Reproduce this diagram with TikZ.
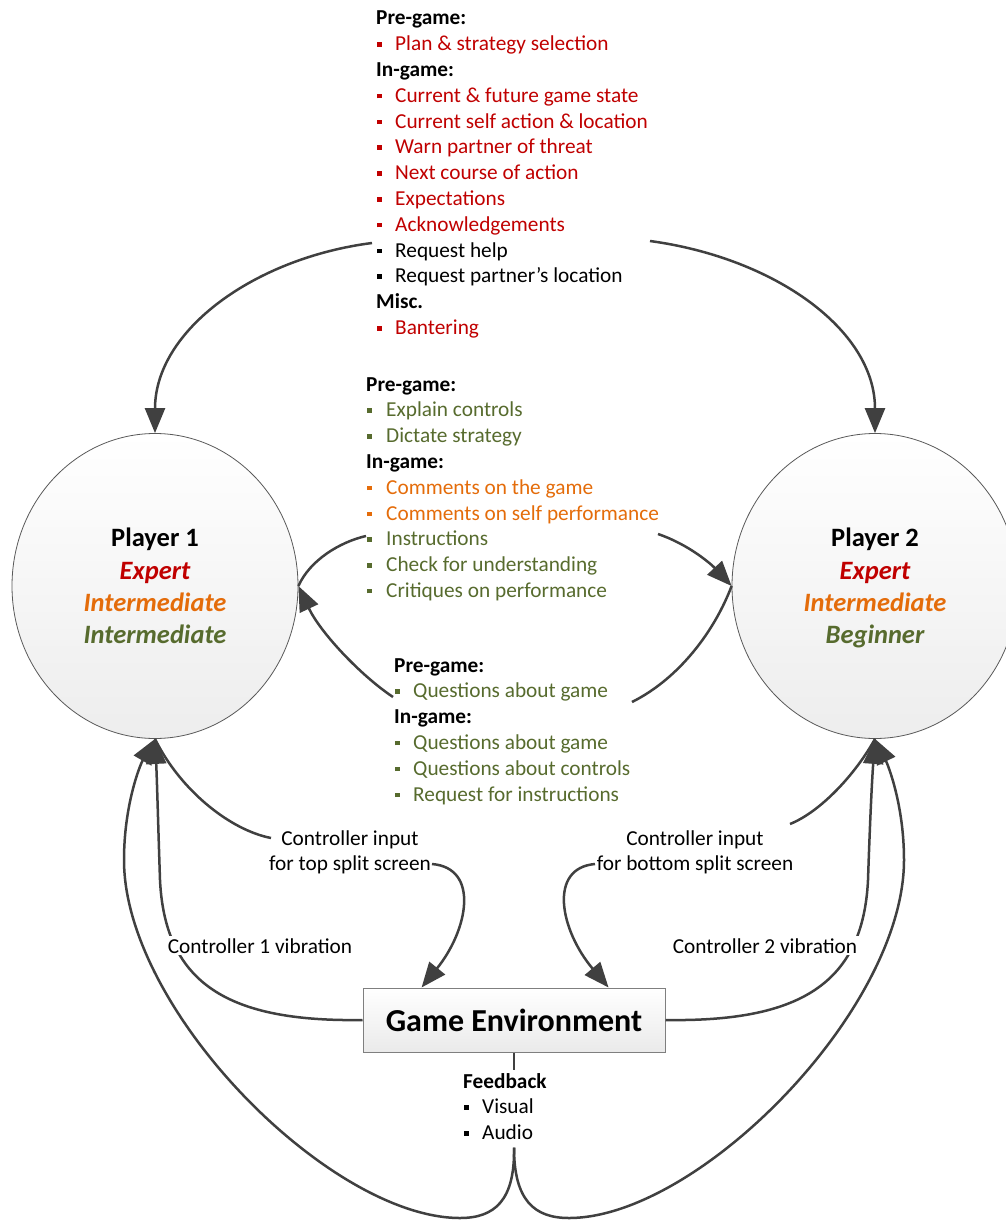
\documentclass[tikz,border=0pt]{standalone}
\usepackage{fontspec}
\setmainfont{Carlito}
\usetikzlibrary{arrows.meta,shapes.geometric,calc}

\definecolor{cred}{HTML}{C00000}
\definecolor{corange}{HTML}{E46C0A}
\definecolor{cgreen}{HTML}{576B2E}
\definecolor{cline}{HTML}{404040}
\definecolor{cborder}{HTML}{595959}
\definecolor{cshade}{HTML}{EDEDED}
\definecolor{cboxline}{HTML}{7F7F7F}
\definecolor{cboxshade}{HTML}{EAEAEA}

% square bullet item: colour, indent, text
\newcommand\bitem[3]{{\color{#1}\makebox[#2][l]{\hspace{1pt}\rule[4pt]{4.5pt}{4.5pt}}#3}}
% text without depth, so both player labels sit at the same height
\newcommand\nodepth[1]{\raisebox{0pt}[\height][0pt]{#1}}

\begin{document}
\begin{tikzpicture}[x=1pt,y=-1pt,
  txt/.style={inner sep=0pt, font=\fontsize{21.3}{25.8}\selectfont},
  player/.style={ellipse, draw=cborder, line width=0.8pt, top color=white,
    bottom color=cshade, minimum width=286pt, minimum height=305pt,
    inner sep=0pt, align=center, font=\fontsize{26.5}{32.3}\selectfont\bfseries},
  envbox/.style={rectangle, draw=cboxline, line width=1pt, top color=white,
    bottom color=cboxshade, minimum width=302pt, minimum height=64pt,
    font=\fontsize{32}{38}\selectfont\bfseries},
  conn/.style={draw=cline, line width=2.5pt},
  arrowend/.style={-{Triangle[length=25pt,width=20pt]}}
]
\useasboundingbox (0,0) rectangle (1005,1220);

% players and game environment
\node[player] (p1) at (155,586) {Player 1\\ \textcolor{cred}{\itshape Expert}\\
  \textcolor{corange}{\itshape Intermediate}\\ \textcolor{cgreen}{\itshape Intermediate}};
\node[player] (p2) at (875,586) {Player 2\\ \textcolor{cred}{\itshape Expert}\\
  \textcolor{corange}{\itshape Intermediate}\\ \textcolor{cgreen}{\itshape\nodepth{Beginner}}};
\node[envbox] (ge) at (514,1020) {Game Environment};

% verbal communication lists
\node[txt, anchor=base west] (topblk) at (376,25) {\begin{tabular}[t]{@{}l@{}}
  \textbf{Pre-game:}\\
  \bitem{cred}{19pt}{Plan \& strategy selection}\\
  \textbf{In-game:}\\
  \bitem{cred}{19pt}{Current \& future game state}\\
  \bitem{cred}{19pt}{Current self action \& location}\\
  \bitem{cred}{19pt}{Warn partner of threat}\\
  \bitem{cred}{19pt}{Next course of action}\\
  \bitem{cred}{19pt}{Expectations}\\
  \bitem{cred}{19pt}{Acknowledgements}\\
  \bitem{black}{19pt}{Request help}\\
  \bitem{black}{19pt}{Request partner’s location}\\
  \textbf{Misc.}\\
  \bitem{cred}{19pt}{Bantering}
\end{tabular}};

\node[txt, anchor=base west] (midA) at (366,391) {\begin{tabular}[t]{@{}l@{}}
  \textbf{Pre-game:}\\
  \bitem{cgreen}{20pt}{Explain controls}\\
  \bitem{cgreen}{20pt}{Dictate strategy}\\
  \textbf{In-game:}\\
  \bitem{corange}{20pt}{Comments on the game}\\
  \bitem{corange}{20pt}{Comments on self performance}\\
  \bitem{cgreen}{20pt}{Instructions}\\
  \bitem{cgreen}{20pt}{Check for understanding}\\
  \bitem{cgreen}{20pt}{Critiques on performance}
\end{tabular}};

\node[txt, anchor=base west] (midB) at (394,672) {\begin{tabular}[t]{@{}l@{}}
  \textbf{Pre-game:}\\
  \bitem{cgreen}{19pt}{Questions about game}\\
  \textbf{In-game:}\\
  \bitem{cgreen}{19pt}{Questions about game}\\
  \bitem{cgreen}{19pt}{Questions about controls}\\
  \bitem{cgreen}{19pt}{Request for instructions}
\end{tabular}};

\node[txt, anchor=base west] (fb) at (463,1088) {\begin{tabular}[t]{@{}l@{}}
  \textbf{Feedback}\\
  \bitem{black}{19pt}{Visual}\\
  \bitem{black}{19pt}{Audio}
\end{tabular}};

% controller input labels
\node[txt, anchor=base] (ciL) at (350,845) {\begin{tabular}[t]{@{}c@{}}
  Controller input\\ for top split screen\end{tabular}};
\node[txt, anchor=base] (ciR) at (695,845) {\begin{tabular}[t]{@{}c@{}}
  Controller input\\ for bottom split screen\end{tabular}};

% connector end points at the text blocks
\coordinate (tl) at (372,243);
\coordinate (tr) at (650,241);
\coordinate (mAl) at (366,536);
\coordinate (mAr) at (658,534);
\coordinate (mBl) at (393,697);
\coordinate (mBr) at (632,702);
\coordinate (ciLa) at (271,838);
\coordinate (ciLb) at (432,864);
\coordinate (ciRa) at (790,824);
\coordinate (ciRb) at (595,864);
\coordinate (geinL) at ($(ge.north west)!0.195!(ge.north east)$);
\coordinate (geinR) at ($(ge.north west)!0.812!(ge.north east)$);
\coordinate (fbtop) at (ge.south |- fb.north);
\coordinate (fbbot) at (ge.south |- fb.south);

% communication between the players
\draw[conn, arrowend] (tl) .. controls (255,258) and (155,330) .. (p1.north);
\draw[conn, arrowend] (tr) .. controls (775,258) and (875,330) .. (p2.north);
\draw[conn] (p1.east) .. controls (310,560) and (340,542) .. (mAl);
\draw[conn, arrowend] (mAr) .. controls (690,545) and (712,565) .. (p2.west);
\draw[conn] (p2.west) .. controls (715,630) and (680,678) .. (mBr);
\draw[conn, arrowend] (mBl) .. controls (360,675) and (320,632) .. (p1.east);

% controller input
\draw[conn] (p1.south) .. controls (180,790) and (230,830) .. (ciLa);
\draw[conn, arrowend] (ciLb) .. controls (480,868) and (468,930) .. (geinL);
\draw[conn] (p2.south) .. controls (855,775) and (820,812) .. (ciRa);
\draw[conn, arrowend] (ciRb) .. controls (548,868) and (560,930) .. (geinR);

% controller vibration
\draw[conn, arrowend] (ge.west) .. controls (230,1022) and (165,985) .. (160,880)
  .. controls (158,820) and (157,780) .. (p1.south);
\draw[conn, arrowend] (ge.east) .. controls (798,1022) and (863,985) .. (868,880)
  .. controls (870,820) and (872,780) .. (p2.south);

% audio-visual feedback
\draw[conn] (ge.south) -- (fbtop);
\draw[conn, arrowend] (fbbot) .. controls (515,1200) and (495,1218) .. (460,1218)
  .. controls (330,1218) and (124,1010) .. (124,860)
  .. controls (124,805) and (140,765) .. (p1.south);
\draw[conn, arrowend] (fbbot) .. controls (514,1200) and (534,1218) .. (569,1218)
  .. controls (698,1218) and (904,1010) .. (904,860)
  .. controls (904,805) and (888,765) .. (p2.south);

% vibration labels sit on top of their connectors
\node[txt, anchor=base, fill=white, inner sep=2pt] (vibL) at (260,953) {Controller 1 vibration};
\node[txt, anchor=base, fill=white, inner sep=2pt] (vibR) at (765,953) {Controller 2 vibration};
\end{tikzpicture}
\end{document}
